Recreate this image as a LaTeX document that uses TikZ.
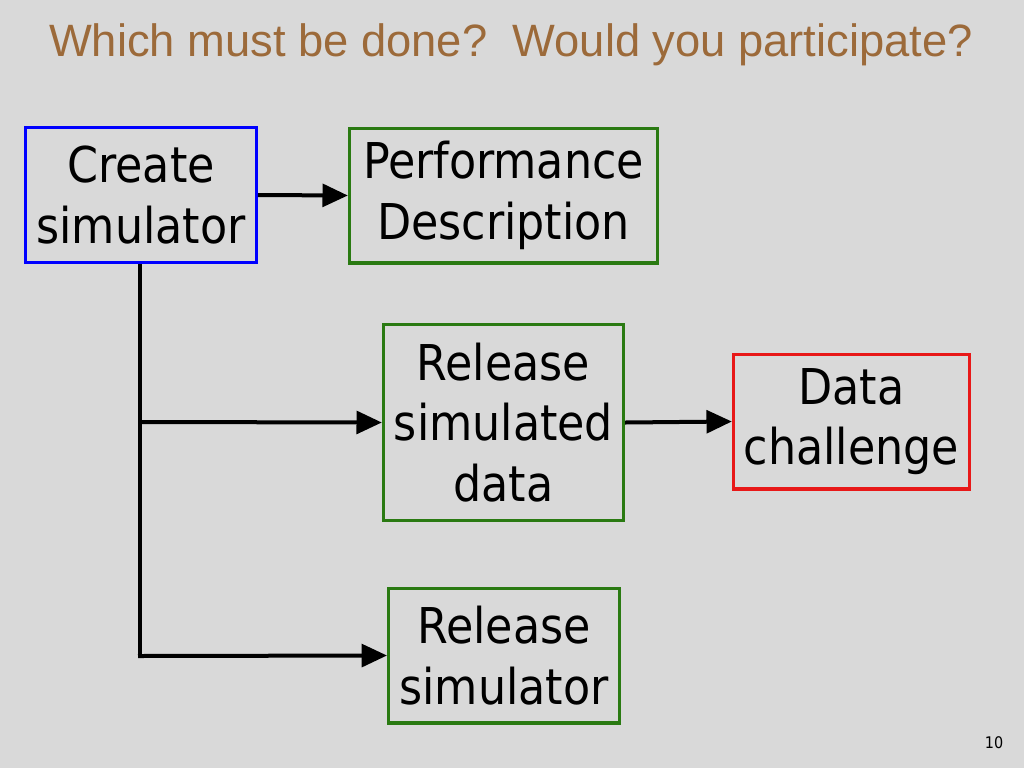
\documentclass[tikz,border=0pt]{standalone}
\usepackage{fontspec}
\setmainfont{DejaVu Sans Condensed}
\newfontfamily\titlefont{Liberation Sans}
\usetikzlibrary{arrows.meta}
\definecolor{bg}{HTML}{D9D9D9}
\definecolor{ttl}{HTML}{9C6A3A}
\definecolor{bblue}{HTML}{0000FF}
\definecolor{bgreen}{HTML}{2A7A12}
\definecolor{bred}{HTML}{E81818}
\begin{document}
\begin{tikzpicture}[x=0.75pt,y=-0.75pt,
  box/.style={draw,line width=2.5pt,align=center,font=\fontsize{37}{45.5}\selectfont,inner sep=0pt},
  conn/.style={line width=3pt,-{Triangle[length=19pt,width=17pt]}}]
\fill[bg] (0,0) rectangle (1024,768);
\useasboundingbox (0,0) rectangle (1024,768);
\node[anchor=center,text=ttl,font=\titlefont\fontsize{34}{40}\selectfont] (title) at (511,45) {Which must be done?\ \ Would you participate?};
\node[box,draw=bblue,minimum width=173pt,minimum height=101pt] (cs) at (141,195) {Create\\simulator};
\node[box,draw=bgreen,minimum width=231pt,minimum height=101pt] (pd) at (503.5,195.5) {Performance\\Description};
\node[box,draw=bgreen,minimum width=180pt,minimum height=147pt] (rsd) at (503.5,422.5) {Release\\simulated\\data};
\node[box,draw=bred,minimum width=177pt,minimum height=101pt] (dc) at (851.5,421.5) {Data\\challenge};
\node[box,draw=bgreen,minimum width=173pt,minimum height=101pt] (rs) at (504,655.5) {Release\\simulator};
\node[font=\fontsize{12}{14}\selectfont] (pn) at (994,743) {10};
\coordinate (j1) at (140,422);
\coordinate (j2) at (140,656);
\draw[conn] (cs.east) -- (pd.west);
\draw[line width=3pt] (cs.south -| j1) -- (j2);
\draw[conn] (j1) -- (rsd.west);
\draw[conn] ([xshift=-1.5pt]j2) -- (rs.west);
\draw[conn] (rsd.east) -- (dc.west);
\end{tikzpicture}
\end{document}
